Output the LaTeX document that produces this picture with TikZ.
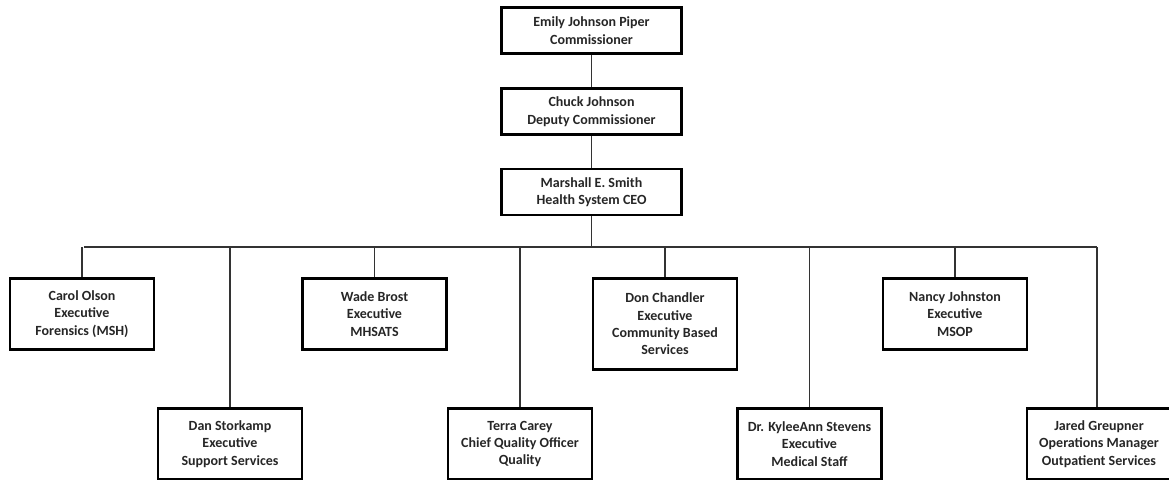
\documentclass[tikz,border=0pt]{standalone}
\usepackage{fontspec}
\setmainfont{Carlito}
\begin{document}
\begin{tikzpicture}[x=1pt,y=-1pt,
  box/.style={draw=black, line width=2.6pt, fill=white, align=center, inner sep=0pt,
    font=\bfseries\fontsize{14}{17.4}\selectfont, text=black!85},
  topbox/.style={box, minimum width=180pt, minimum height=46pt},
  subbox/.style={box, minimum width=144pt, minimum height=71pt},
  conn/.style={draw=black!80, line width=1.3pt}]
\useasboundingbox (0,0) rectangle (1169,479);
\clip (0,0) rectangle (1169,479);
\fill[white] (0,0) rectangle (1169,479);
\coordinate (busL) at (84,247);
\coordinate (busR) at (1097,247);
\node[topbox] (emily) at (591.5,30.5) {Emily Johnson Piper\\Commissioner};
\node[topbox] (chuck) at (591.5,111.5) {Chuck Johnson\\Deputy Commissioner};
\node[topbox] (marshall) at (591.5,192) {Marshall E. Smith\\Health System CEO};
\node[subbox] (carol) at (82,314) {Carol Olson\\Executive\\Forensics (MSH)};
\node[subbox] (wade) at (374.5,314) {Wade Brost\\Executive\\MHSATS};
\node[subbox, minimum height=91pt] (don) at (665,324) {Don Chandler\\Executive\\Community Based\\Services};
\node[subbox] (nancy) at (955,314) {Nancy Johnston\\Executive\\MSOP};
\node[subbox] (dan) at (230,444) {Dan Storkamp\\Executive\\Support Services};
\node[subbox] (terra) at (520,444) {Terra Carey\\Chief Quality Officer\\Quality};
\node[subbox] (kylee) at (809.5,444) {Dr. KyleeAnn Stevens\\Executive\\Medical Staff};
\node[subbox] (jared) at (1099,444) {Jared Greupner\\Operations Manager\\Outpatient Services};
\draw[conn] (emily.south) -- (chuck.north);
\draw[conn] (chuck.south) -- (marshall.north);
\draw[conn] (marshall.south) -- (marshall.south |- busL);
\draw[conn] (busL) -- (busR);
\foreach \n in {carol,wade,don,nancy,dan,terra,kylee}
  \draw[conn] (\n.north) -- (\n.north |- busL);
\draw[conn] (jared.north -| busR) -- (busR);
\end{tikzpicture}
\end{document}
